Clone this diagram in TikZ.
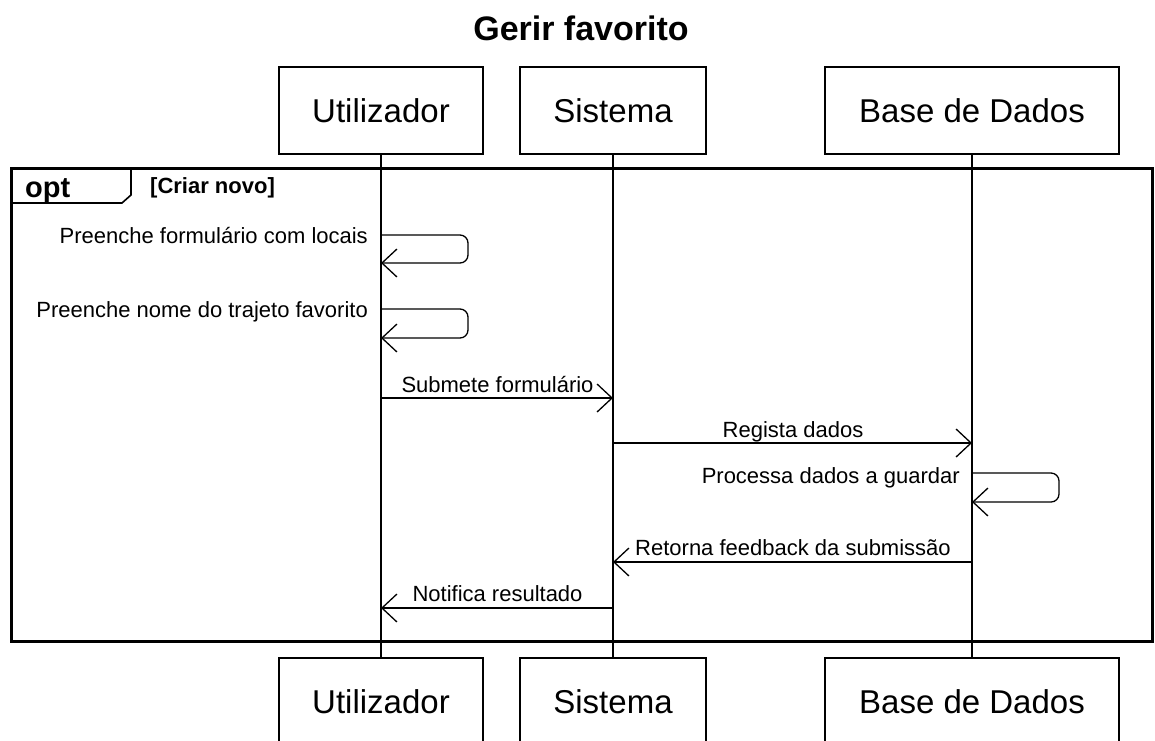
\documentclass[tikz,border=0pt]{standalone}
\usepackage{fontspec}
\setmainfont{Liberation Sans}
\usetikzlibrary{arrows.meta}

\tikzset{
  actor/.style={draw, line width=1.4pt, fill=white, minimum width=#1, minimum height=87pt,
                inner sep=0pt, font=\fontsize{33}{38}\selectfont},
  lifeline/.style={line width=1.5pt},
  msg/.style={line width=1.3pt, -{Straight Barb[length=15pt, width=28pt, line width=1.3pt]}},
  selfmsg/.style={msg, rounded corners=8pt},
  lbl/.style={inner sep=0pt, font=\fontsize{22}{26}\selectfont},
  frametab/.style={line width=1.6pt},
}

\begin{document}
\begin{tikzpicture}[x=1pt, y=-1pt]
  \clip (0,0) rectangle (1155,740);
  \fill[white] (0,0) rectangle (1155,740);

  % title
  \node[font=\bfseries\fontsize{34}{40}\selectfont, anchor=base, inner sep=0pt] (title) at (581,40) {Gerir favorito};

  % participants, top and bottom
  \node[actor=204pt] (u1) at (381,110.5) {Utilizador};
  \node[actor=186pt] (s1) at (613,110.5) {Sistema};
  \node[actor=294pt] (d1) at (972,110.5) {Base de Dados};
  \node[actor=204pt] (u2) at (381,701.5) {Utilizador};
  \node[actor=186pt] (s2) at (613,701.5) {Sistema};
  \node[actor=294pt] (d2) at (972,701.5) {Base de Dados};

  % lifelines
  \draw[lifeline] (u1.south) -- (u2.north);
  \draw[lifeline] (s1.south) -- (s2.north);
  \draw[lifeline] (d1.south) -- (d2.north);

  % opt fragment
  \draw[line width=3pt] (11,168) rectangle (1152,641);
  \draw[frametab] (11,203) -- (122,203) -- (131,195) -- (131,168);
  \node[font=\bfseries\fontsize{29}{34}\selectfont, anchor=base west, inner sep=0pt] (opt) at (25,197) {opt};
  \node[font=\bfseries\fontsize{22}{26}\selectfont, anchor=base west, inner sep=0pt] (guard) at (150,193) {[Criar novo]};

  % messages
  \draw[selfmsg] (u1 |- 0,235) -- (468,235) -- (468,263) -- (u1 |- 0,263);
  \node[lbl, anchor=base east] (m1) at (368,243) {Preenche formulário com locais};

  \draw[selfmsg] (u1 |- 0,309) -- (468,309) -- (468,338) -- (u1 |- 0,338);
  \node[lbl, anchor=base east] (m2) at (368,317) {Preenche nome do trajeto favorito};

  \draw[msg] (u1 |- 0,398) -- (s1 |- 0,398);
  \node[lbl, anchor=base] (m3) at (497.5,392) {Submete formulário};

  \draw[msg] (s1 |- 0,443) -- (d1 |- 0,443);
  \node[lbl, anchor=base] (m4) at (793,437) {Regista dados};

  \draw[selfmsg] (d1 |- 0,473) -- (1059,473) -- (1059,502) -- (d1 |- 0,502);
  \node[lbl, anchor=base east] (m5) at (960,483) {Processa dados a guardar};

  \draw[msg] (d1 |- 0,562) -- (s1 |- 0,562);
  \node[lbl, anchor=base west] (m6) at (635,555) {Retorna feedback da submissão};

  \draw[msg] (s1 |- 0,608) -- (u1 |- 0,608);
  \node[lbl, anchor=base] (m7) at (497.5,601) {Notifica resultado};
\end{tikzpicture}
\end{document}
